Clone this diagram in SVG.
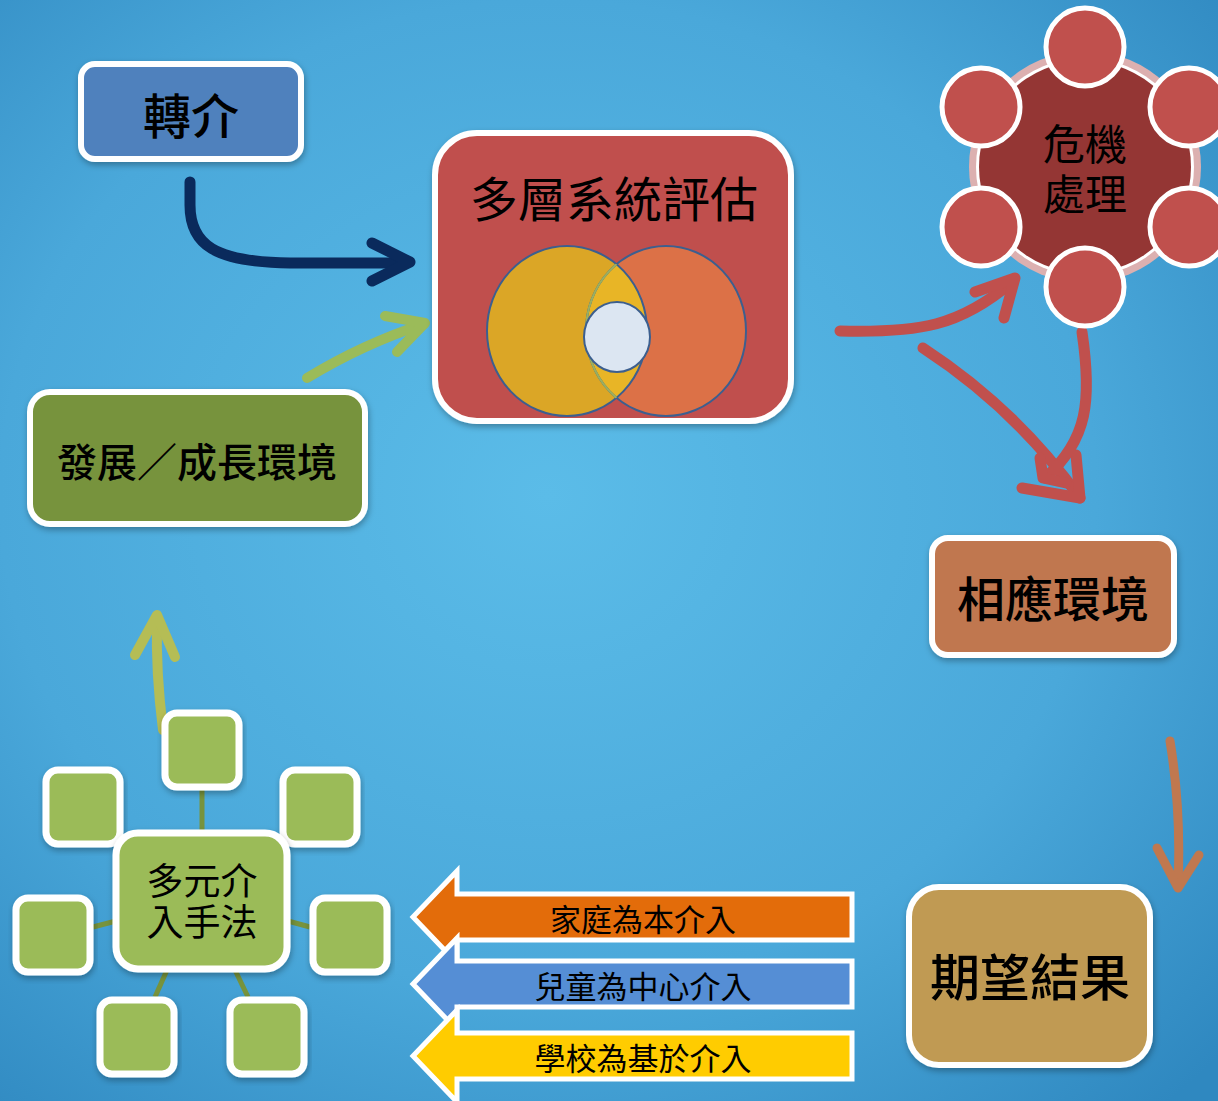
<svg xmlns="http://www.w3.org/2000/svg" width="1218" height="1101" viewBox="0 0 1218 1101">
  <defs>
    <radialGradient id="bg" cx="0.45" cy="0.45" r="0.75">
      <stop offset="0" stop-color="#5bbce8"/>
      <stop offset="0.6" stop-color="#4aa8da"/>
      <stop offset="1" stop-color="#2f88c0"/>
    </radialGradient>
    <filter id="sh" x="-10%" y="-10%" width="120%" height="125%">
      <feDropShadow dx="1" dy="3" stdDeviation="3" flood-color="#000" flood-opacity="0.3"/>
    </filter>
  </defs>
  <style>
    .box { stroke: #ffffff; stroke-width: 6; filter: url(#sh); }
    .t { font-family: "Noto Sans CJK TC", "Noto Sans CJK SC", sans-serif; fill: #000; text-anchor: middle; dominant-baseline: central; }
    .bold { font-weight: 500; }
    .sq { fill: #9bbb59; stroke: #ffffff; stroke-width: 7; filter: url(#sh); }
    .conn { fill: none; stroke-linecap: round; stroke-linejoin: round; }
    .red { stroke: #c0504d; stroke-width: 11; }
    .spoke { stroke: #77933c; stroke-width: 5; }
    .circ { fill: #c0504d; stroke: #ffffff; stroke-width: 5; }
  </style>
  <rect x="0" y="0" width="1218" height="1101" fill="url(#bg)"/>

  <g id="connectors">
    <path class="conn" d="M190,182 L190,205 C190,245 215,262 290,263 L405,263" stroke="#0a2a5c" stroke-width="11" stroke-linecap="butt"/>
    <path class="conn" d="M372,243 L410,262 L372,281" stroke="#0a2a5c" stroke-width="11"/>
    <path class="conn" d="M307,378 C340,358 375,340 424,324" stroke="#9bbb59" stroke-width="10" stroke-linecap="butt"/>
    <path class="conn" d="M385,316 L425,323 L397,352" stroke="#9bbb59" stroke-width="10"/>
    <path class="conn red" d="M840,331 C920,333 960,326 1012,282" stroke-linecap="butt"/>
    <path class="conn red" d="M975,292 L1015,278 L1004,318"/>
    <path class="conn red" d="M923,348 C975,382 1030,428 1080,498" stroke-linecap="butt"/>
    <path class="conn red" d="M1022,488 L1080,498 L1076,455"/>
    <path class="conn red" d="M1082,332 C1092,400 1088,440 1045,478" stroke-linecap="butt"/>
    <path class="conn red" d="M1040,458 L1043,478 L1066,483"/>
    <path class="conn" d="M1170,741 C1178,790 1180,840 1178,884" stroke="#c0784f" stroke-width="9" stroke-linecap="butt"/>
    <path class="conn" d="M1157,848 L1178,888 L1199,855" stroke="#c0784f" stroke-width="9"/>
    <path class="conn" d="M163,730 C158,690 156,660 157,622" stroke="#b5bd55" stroke-width="10" stroke-linecap="butt"/>
    <path class="conn" d="M135,655 L157,615 L175,657" stroke="#b5bd55" stroke-width="10"/>
  </g>

  <g id="node-referral">
    <rect class="box" x="81" y="64" width="220" height="95" rx="14" fill="#4f81bd"/>
    <text class="t bold" x="191" y="113" font-size="48">轉介</text>
  </g>

  <g id="node-assessment">
    <rect class="box" x="435" y="133" width="356" height="288" rx="42" fill="#c0504d" stroke-width="8"/>
    <text class="t" x="614" y="196" font-size="48">多層系統評估</text>
    <ellipse cx="567" cy="331" rx="80" ry="85" fill="#dba626"/>
    <ellipse cx="666" cy="331" rx="80" ry="85" fill="#dc7147"/>
    <clipPath id="clipL"><ellipse cx="567" cy="331" rx="80" ry="85"/></clipPath>
    <ellipse cx="666" cy="331" rx="80" ry="85" fill="#e8b526" clip-path="url(#clipL)"/>
    <ellipse cx="567" cy="331" rx="80" ry="85" fill="none" stroke="#3c5f8f" stroke-width="2"/>
    <ellipse cx="666" cy="331" rx="80" ry="85" fill="none" stroke="#3c5f8f" stroke-width="2"/>
    <ellipse cx="666" cy="331" rx="80" ry="85" fill="none" stroke="#9bb060" stroke-width="2" clip-path="url(#clipL)"/>
    <ellipse cx="617" cy="337" rx="33" ry="35" fill="#dce6f2" stroke="#3c5f8f" stroke-width="2"/>
  </g>

  <g id="node-crisis">
    <circle cx="1085" cy="167" r="116" fill="#dcb0b0"/>
    <circle cx="1085" cy="167" r="109" fill="#ffffff"/>
    <circle cx="1085" cy="167" r="106" fill="#943634"/>
    <circle class="circ" cx="1085" cy="47" r="39"/>
    <circle class="circ" cx="1189" cy="107" r="39"/>
    <circle class="circ" cx="1189" cy="227" r="39"/>
    <circle class="circ" cx="1085" cy="287" r="39"/>
    <circle class="circ" cx="981" cy="227" r="39"/>
    <circle class="circ" cx="981" cy="107" r="39"/>
    <text class="t" font-size="42"><tspan x="1085" y="141">危機</tspan><tspan x="1085" y="191">處理</tspan></text>
  </g>

  <g id="node-environment">
    <rect class="box" x="932" y="538" width="242" height="117" rx="16" fill="#c0774f"/>
    <text class="t bold" x="1053" y="596" font-size="48">相應環境</text>
  </g>

  <g id="node-outcome">
    <rect class="box" x="909" y="887" width="241" height="178" rx="30" fill="#c09a53"/>
    <text class="t bold" x="1030" y="974" font-size="50">期望結果</text>
  </g>

  <g id="node-development">
    <rect class="box" x="30" y="392" width="335" height="132" rx="20" fill="#77933c"/>
    <text class="t bold" x="197" y="460" font-size="40">發展／成長環境</text>
  </g>

  <g id="node-interventions">
    <line class="spoke" x1="202" y1="790" x2="202" y2="832"/>
    <line class="spoke" x1="93" y1="927" x2="116" y2="921"/>
    <line class="spoke" x1="288" y1="921" x2="310" y2="927"/>
    <line class="spoke" x1="167" y1="970" x2="155" y2="997"/>
    <line class="spoke" x1="235" y1="970" x2="248" y2="997"/>
    <rect class="sq" x="165" y="713" width="74" height="74" rx="12"/>
    <rect class="sq" x="46" y="770" width="74" height="74" rx="12"/>
    <rect class="sq" x="283" y="770" width="74" height="74" rx="12"/>
    <rect class="sq" x="16" y="898" width="74" height="74" rx="12"/>
    <rect class="sq" x="313" y="898" width="74" height="74" rx="12"/>
    <rect class="sq" x="100" y="1000" width="74" height="74" rx="12"/>
    <rect class="sq" x="230" y="1000" width="74" height="74" rx="12"/>
    <rect class="sq" x="116" y="833" width="171" height="136" rx="22" stroke-width="8"/>
    <text class="t" font-size="37"><tspan x="202" y="879">多元介</tspan><tspan x="202" y="920">入手法</tspan></text>
  </g>

  <g id="node-family">
    <polygon points="413,917 457,871 457,894 852,894 852,940 457,940 457,963" fill="#e36c0a" stroke="#fff" stroke-width="5" stroke-linejoin="miter"/>
    <text class="t" x="643" y="917" font-size="31">家庭為本介入</text>
  </g>
  <g id="node-child">
    <polygon points="413,984 457,938 457,961 852,961 852,1007 457,1007 457,1030" fill="#558ed5" stroke="#fff" stroke-width="5"/>
    <text class="t" x="643" y="984" font-size="31">兒童為中心介入</text>
  </g>
  <g id="node-school">
    <polygon points="413,1056 457,1010 457,1033 852,1033 852,1079 457,1079 457,1102" fill="#ffcc00" stroke="#fff" stroke-width="5"/>
    <text class="t" x="643" y="1056" font-size="31">學校為基於介入</text>
  </g>
</svg>
